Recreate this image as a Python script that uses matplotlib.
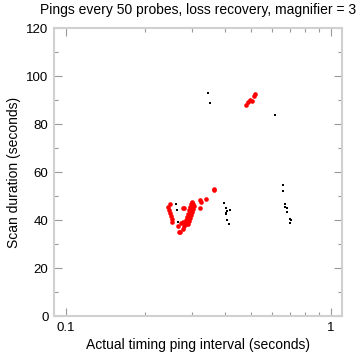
import matplotlib
matplotlib.use("Agg")
import matplotlib.pyplot as plt
from matplotlib.ticker import LogLocator, FixedLocator, NullFormatter, FixedFormatter

plt.rcParams['font.family'] = ['Liberation Sans', 'DejaVu Sans']

title = "Pings every 50 probes, loss recovery, magnifier = 3"
xlabel = "Actual timing ping interval (seconds)"
ylabel = "Scan duration (seconds)"

# Red series (larger points)
red_x = [0.243, 0.245, 0.247, 0.249, 0.251, 0.248, 0.252,
         0.269, 0.267, 0.266, 0.273, 0.277, 0.278, 0.279, 0.300, 0.322, 0.325,
         0.322, 0.337, 0.362, 0.364,
         0.284, 0.286, 0.289, 0.291, 0.294, 0.296, 0.299, 0.302, 0.289, 0.291,
         0.294, 0.296, 0.299, 0.286, 0.284, 0.282, 0.294, 0.296, 0.299, 0.302,
         0.279, 0.277, 0.304, 0.291, 0.289,
         0.478, 0.486, 0.495, 0.503, 0.517, 0.512]
red_y = [45.4, 44.2, 42.9, 41.7, 40.4, 46.7, 39.2,
         35.1, 35.1, 37.6, 38.9, 39.3, 44.9, 45.1, 47.2, 48.3, 47.6,
         45.1, 48.75, 52.9, 52.5,
         38.3, 39.6, 40.4, 41.7, 42.9, 44.2, 45.4, 46.7, 42.5, 44.2,
         45.4, 46.7, 47.5, 41.25, 40.0, 38.75, 40.8, 42.1, 43.3, 44.6,
         37.5, 36.25, 45.8, 39.6, 38.3,
         87.9, 89.2, 90.0, 89.6, 92.5, 91.7]

# Black series (small points)
black_x = [0.260, 0.262, 0.265,
           0.343, 0.349,
           0.396, 0.402, 0.401, 0.416, 0.404, 0.402, 0.404, 0.413,
           0.613,
           0.657, 0.660, 0.669, 0.671, 0.680, 0.680, 0.700, 0.706, 0.700]
black_y = [46.7, 44.2, 39.2,
           92.9, 88.75,
           47.0, 45.1, 43.0, 44.4, 43.75, 42.5, 40.2, 38.2,
           83.9,
           54.6, 52.1, 46.7, 45.5, 45.0, 43.3, 40.4, 40.1, 38.9]

xticks = [0.1, 1]
xticklabels = ["0.1", "1"]
yticks = [0, 20, 40, 60, 80, 100, 120]

fig = plt.figure(figsize=(3.6, 3.6), dpi=100)
ax = fig.add_axes([0.15, 0.122, 0.8, 0.8])

ax.scatter(black_x, black_y, s=2.5, c='black', marker='s', linewidths=0, zorder=3)
ax.scatter(red_x, red_y, s=11, c='#ff0000', marker='o', linewidths=0, zorder=4)

ax.set_xscale('log')
ax.set_xlim(0.0905, 1.1)
ax.set_ylim(0, 120)

ax.xaxis.set_major_locator(FixedLocator(xticks))
ax.xaxis.set_major_formatter(FixedFormatter(xticklabels))
ax.xaxis.set_minor_locator(LogLocator(base=10, subs=range(2, 10)))
ax.xaxis.set_minor_formatter(NullFormatter())
ax.set_yticks(yticks)
ax.set_yticks([10, 30, 50, 70, 90, 110], minor=True)

for s in ax.spines.values():
    s.set_color('#d0d0d0')
    s.set_linewidth(1.5)

ax.tick_params(which='both', direction='in', top=True, right=True, color='#999999',
               labelsize=9.5, pad=4)
ax.tick_params(which='major', length=6, width=0.8)
ax.tick_params(which='minor', length=3, width=0.8)

ax.set_xlabel(xlabel, fontsize=10, labelpad=3)
ax.set_ylabel(ylabel, fontsize=10, labelpad=4)
fig.text(0.55, 0.972, title, ha='center', va='center', fontsize=10)

fig.savefig("out.png", dpi=100)
